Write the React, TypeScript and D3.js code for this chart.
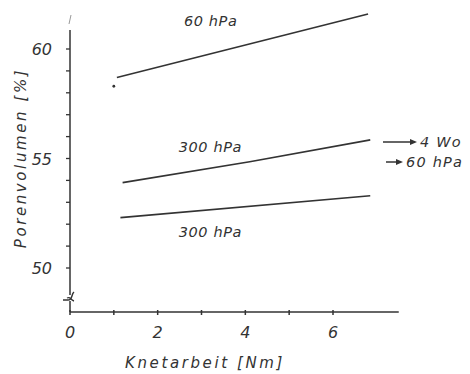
import React, { useEffect, useRef } from "react";
import * as d3 from "d3";

// Knetarbeit [Nm] vs Porenvolumen [%]
const knet60 = [1.07, 6.8];
const poren60 = [58.7, 61.6];
const knet300a = [1.2, 4.1, 6.85];
const poren300a = [53.9, 54.85, 55.85];
const knet300b = [1.15, 6.85];
const poren300b = [52.3, 53.3];
const pointKnet = [1.0];
const pointPoren = [58.3];

const curveLabels = ["60 hPa", "300 hPa", "300 hPa"];
const labelKnet = [2.6, 2.48, 2.48];
const labelPoren = [61.05, 55.3, 51.4];

const xTickLabels = [0, 2, 4, 6];
const xTicks = [0, 1, 2, 3, 4, 5, 6];
const yTickLabels = [50, 55, 60];
const yTicks = [50, 51, 52, 53, 54, 55, 56, 57, 58, 59, 60];

const ink = "#333";
const font = "'DejaVu Sans', sans-serif";

const App = () => {
  const ref = useRef();

  useEffect(() => {
    const width = 470;
    const height = 374;
    const svg = d3.select(ref.current);
    svg.selectAll("*").remove();
    svg.attr("width", width).attr("height", height);

    const x = d3.scaleLinear().domain([0, 6]).range([70, 333]);
    const y = d3.scaleLinear().domain([50, 60]).range([268, 49]);
    const axisY = 312;
    const g = svg.append("g");

    // x axis
    g.append("line")
      .attr("x1", x(0)).attr("x2", x(7.5))
      .attr("y1", axisY).attr("y2", axisY)
      .attr("stroke", ink).attr("stroke-width", 1.5);
    g.selectAll("line.xt")
      .data(xTicks)
      .enter()
      .append("line")
      .attr("class", "xt")
      .attr("x1", (d) => x(d)).attr("x2", (d) => x(d))
      .attr("y1", axisY - 2).attr("y2", axisY + 3)
      .attr("stroke", ink).attr("stroke-width", 1.5);
    g.selectAll("text.xl")
      .data(xTickLabels)
      .enter()
      .append("text")
      .attr("class", "xl")
      .attr("x", (d) => x(d))
      .attr("y", axisY + 26)
      .attr("text-anchor", "middle")
      .attr("font-family", font)
      .attr("font-style", "italic")
      .attr("font-size", 16)
      .attr("fill", ink)
      .text((d) => d);

    // y axis with break
    g.append("line")
      .attr("x1", x(0)).attr("x2", x(0))
      .attr("y1", 30).attr("y2", 295)
      .attr("stroke", ink).attr("stroke-width", 1.5);
    g.append("line")
      .attr("x1", x(0)).attr("x2", x(0))
      .attr("y1", 301).attr("y2", axisY)
      .attr("stroke", ink).attr("stroke-width", 1.5);
    g.append("path")
      .attr("d", `M${x(0) - 7},300 L${x(0) - 2},300 C${x(0) + 3},300 ${x(0) + 1},294 ${x(0) + 4},292`)
      .attr("fill", "none")
      .attr("stroke", ink).attr("stroke-width", 1.5);
    g.append("path")
      .attr("d", `M${x(0) - 3},298 C${x(0) + 1},296 ${x(0)},300 ${x(0) + 4},301`)
      .attr("fill", "none")
      .attr("stroke", ink).attr("stroke-width", 1.3);
    g.append("line")
      .attr("x1", x(0) - 1).attr("x2", x(0) + 1)
      .attr("y1", 24).attr("y2", 15)
      .attr("stroke", "#999").attr("stroke-width", 1);
    g.selectAll("line.yt")
      .data(yTicks)
      .enter()
      .append("line")
      .attr("class", "yt")
      .attr("x1", x(0) - 4).attr("x2", x(0))
      .attr("y1", (d) => y(d)).attr("y2", (d) => y(d))
      .attr("stroke", ink).attr("stroke-width", 1.3);
    g.selectAll("text.yl")
      .data(yTickLabels)
      .enter()
      .append("text")
      .attr("class", "yl")
      .attr("x", 52)
      .attr("y", (d) => y(d) + 6)
      .attr("text-anchor", "end")
      .attr("font-family", font)
      .attr("font-style", "italic")
      .attr("font-size", 16)
      .attr("fill", ink)
      .text((d) => d);

    // titles
    g.append("text")
      .attr("x", 205)
      .attr("y", 368)
      .attr("text-anchor", "middle")
      .attr("font-family", font)
      .attr("font-style", "italic")
      .attr("font-size", 15)
      .attr("letter-spacing", 2.6)
      .attr("fill", ink)
      .text("Knetarbeit [Nm]");
    g.append("text")
      .attr("transform", "translate(26,158) rotate(-90)")
      .attr("text-anchor", "middle")
      .attr("font-family", font)
      .attr("font-style", "italic")
      .attr("font-size", 15)
      .attr("letter-spacing", 2.6)
      .attr("fill", ink)
      .text("Porenvolumen [%]");

    // curves
    const line = d3
      .line()
      .x((d) => x(d[0]))
      .y((d) => y(d[1]))
      .curve(d3.curveMonotoneX);
    const curves = [
      d3.zip(knet60, poren60),
      d3.zip(knet300a, poren300a),
      d3.zip(knet300b, poren300b),
    ];
    g.selectAll("path.curve")
      .data(curves)
      .enter()
      .append("path")
      .attr("class", "curve")
      .attr("d", line)
      .attr("fill", "none")
      .attr("stroke", ink)
      .attr("stroke-width", 1.6);

    g.selectAll("circle.pt")
      .data(d3.zip(pointKnet, pointPoren))
      .enter()
      .append("circle")
      .attr("class", "pt")
      .attr("cx", (d) => x(d[0]))
      .attr("cy", (d) => y(d[1]))
      .attr("r", 1.4)
      .attr("fill", ink);

    g.selectAll("text.cl")
      .data(curveLabels)
      .enter()
      .append("text")
      .attr("class", "cl")
      .attr("x", (d, i) => x(labelKnet[i]))
      .attr("y", (d, i) => y(labelPoren[i]))
      .attr("font-family", font)
      .attr("font-style", "italic")
      .attr("font-size", 14.5)
      .attr("letter-spacing", 0.6)
      .attr("fill", ink)
      .text((d) => d);

    // side notes
    const notes = [
      { text: "4 Wo", y: 142, x1: 383, x2: 417 },
      { text: "60 hPa", y: 162, x1: 386, x2: 403 },
    ];
    notes.forEach((n) => {
      g.append("line")
        .attr("x1", n.x1).attr("x2", n.x2 - 4)
        .attr("y1", n.y).attr("y2", n.y)
        .attr("stroke", ink).attr("stroke-width", 1.5);
      g.append("path")
        .attr("d", `M${n.x2},${n.y} L${n.x2 - 7},${n.y - 3} L${n.x2 - 7},${n.y + 3} Z`)
        .attr("fill", ink);
      g.append("text")
        .attr("x", n.x2 + 3)
        .attr("y", n.y + 5)
        .attr("font-family", font)
        .attr("font-style", "italic")
        .attr("font-size", 14.5)
        .attr("letter-spacing", 1.2)
        .attr("fill", ink)
        .text(n.text);
    });
  }, []);

  return (
    <div style={{ position: "absolute", left: 0, top: 0, background: "#fff" }}>
      <svg ref={ref} style={{ display: "block" }} />
    </div>
  );
};

export default App;
